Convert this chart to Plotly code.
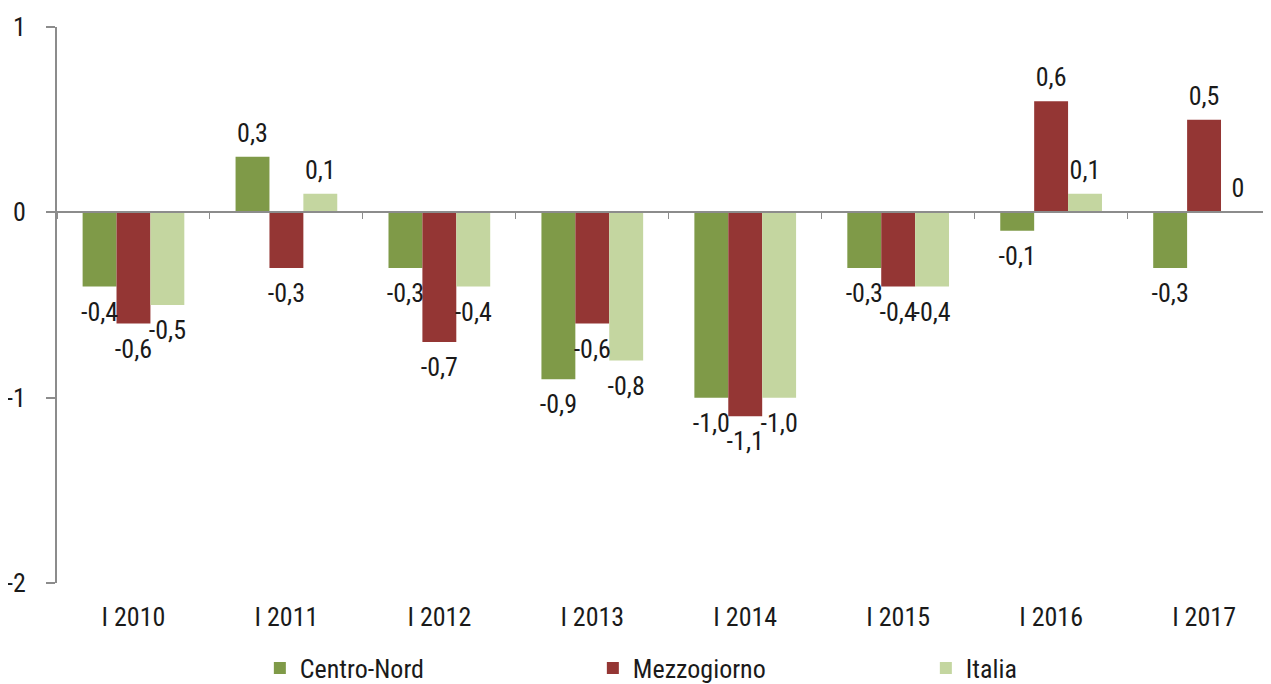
import plotly.graph_objects as go

periodi = ["I 2010", "I 2011", "I 2012", "I 2013", "I 2014", "I 2015", "I 2016", "I 2017"]
centro_nord = [-0.4, 0.3, -0.3, -0.9, -1.0, -0.3, -0.1, -0.3]
mezzogiorno = [-0.6, -0.3, -0.7, -0.6, -1.1, -0.4, 0.6, 0.5]
italia = [-0.5, 0.1, -0.4, -0.8, -1.0, -0.4, 0.1, 0.0]

FONT = "Liberation Sans Narrow, Roboto Condensed, DejaVu Sans Condensed, Arial Narrow, sans-serif"
AXIS = "#8c8c8c"
FS = 26
GAP = 0.335


def etichette(vals):
    # comma as decimal separator, plain "0" for zero
    return ["0" if v == 0 else f"{v:.1f}".replace(".", ",") for v in vals]


fig = go.Figure()
serie = [("Centro-Nord", centro_nord, "#7f9a48"),
         ("Mezzogiorno", mezzogiorno, "#943634"),
         ("Italia", italia, "#c4d6a0")]
for i, (nome, vals, col) in enumerate(serie):
    fig.add_trace(go.Bar(x=periodi, y=vals, name=nome, marker_color=col,
                         marker_line_width=0, offsetgroup=str(i), alignmentgroup="g"))
for i, (nome, vals, col) in enumerate(serie):
    # value labels, pushed a bit further from the bar ends (invisible markers give the gap)
    fig.add_trace(go.Scatter(x=periodi, y=vals, mode="markers+text", text=etichette(vals),
                             textposition=["bottom center" if v < 0 else "top center" for v in vals],
                             marker=dict(size=[22 if v < 0 else 12 for v in vals],
                                         color="rgba(0,0,0,0)", opacity=0,
                                         line=dict(width=0, color="rgba(0,0,0,0)")),
                             textfont=dict(size=FS, color="#1a1a1a", family=FONT),
                             offsetgroup=str(i), alignmentgroup="g",
                             cliponaxis=False, showlegend=False, hoverinfo="skip"))

# invisible trace to carry the zero-line axis with boundary ticks
fig.add_trace(go.Scatter(x=periodi, y=[0] * len(periodi), xaxis="x2", mode="none",
                         showlegend=False, hoverinfo="skip"))

fig.update_layout(
    width=1271, height=684,
    margin=dict(l=49, r=0, t=19, b=109, autoexpand=False),
    plot_bgcolor="white", paper_bgcolor="white",
    font=dict(family=FONT, size=FS, color="#1a1a1a"),
    barmode="group", bargap=GAP, bargroupgap=0,
    scattermode="group", scattergap=GAP,
    showlegend=True,
    legend=dict(orientation="h", x=0.166, xanchor="left", y=-0.153, yanchor="middle",
                entrywidth=288, entrywidthmode="pixels", itemwidth=30,
                font=dict(size=FS, family=FONT), traceorder="normal"),
    xaxis=dict(type="category", categoryorder="array", categoryarray=periodi,
               range=[-0.5, 7.49], showline=False, showgrid=False, ticks="",
               zeroline=False, ticklabelstandoff=16, tickfont=dict(size=FS)),
    xaxis2=dict(type="category", categoryorder="array", categoryarray=periodi,
                range=[-0.5, 7.49], overlaying="x", anchor="free", position=2 / 3,
                showline=True, linecolor=AXIS, linewidth=2, showgrid=False,
                ticks="outside", tickson="boundaries", ticklen=6, tickcolor=AXIS,
                tickwidth=1, showticklabels=False, zeroline=False),
    yaxis=dict(range=[-2, 1], tickvals=[-2, -1, 0, 1], ticktext=["-2", "-1", "0", "1"],
               showgrid=False, zeroline=False, showline=True, linecolor=AXIS, linewidth=2,
               ticks="outside", ticklen=9, tickcolor=AXIS, tickwidth=2,
               ticklabelstandoff=15, tickfont=dict(size=FS)),
)

fig.write_html("out.html")
